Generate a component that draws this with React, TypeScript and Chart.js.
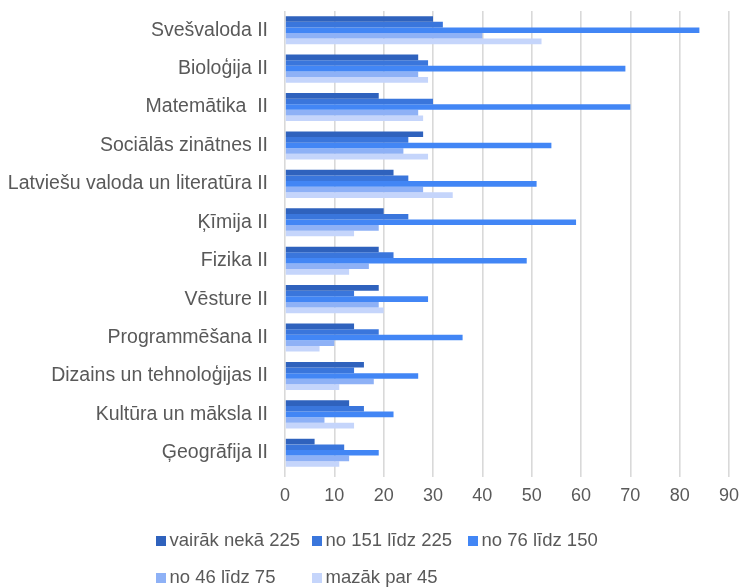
import React, { useEffect, useRef } from "react";
import { Chart, registerables } from "chart.js";

Chart.register(...registerables);

const categories = [
  "Svešvaloda II",
  "Bioloģija II",
  "Matemātika  II",
  "Sociālās zinātnes II",
  "Latviešu valoda un literatūra II",
  "Ķīmija II",
  "Fizika II",
  "Vēsture II",
  "Programmēšana II",
  "Dizains un tehnoloģijas II",
  "Kultūra un māksla II",
  "Ģeogrāfija II",
];

const seriesLabels = [
  "vairāk nekā 225",
  "no 151 līdz 225",
  "no 76 līdz 150",
  "no 46 līdz 75",
  "mazāk par 45",
];

const over225 = [30, 27, 19, 28, 22, 20, 19, 19, 14, 16, 13, 6];
const from151to225 = [32, 29, 30, 25, 25, 25, 22, 14, 19, 14, 16, 12];
const from76to150 = [84, 69, 70, 54, 51, 59, 49, 29, 36, 27, 22, 19];
const from46to75 = [40, 27, 27, 24, 28, 19, 17, 19, 10, 18, 8, 13];
const under45 = [52, 29, 28, 29, 34, 14, 13, 20, 7, 11, 14, 11];

const xTicks = [0, 10, 20, 30, 40, 50, 60, 70, 80, 90];

const colors = ["#2f62bd", "#3a76dc", "#4286f5", "#8eb1f6", "#c5d5fb"];
const textColor = "#595959";
const fontFamily = '"Liberation Sans", Arial, sans-serif';

const legendPlugin = {
  id: "columnLegend",
  afterDraw(chart: any) {
    const ctx = chart.ctx;
    const colX = [156, 312, 468];
    const rowY = [541, 578];
    ctx.save();
    ctx.font = `18.5px ${fontFamily}`;
    ctx.textBaseline = "middle";
    ctx.textAlign = "left";
    chart.data.datasets.forEach((ds: any, i: number) => {
      const col = i % 3;
      const row = Math.floor(i / 3);
      const x = colX[col];
      const y = rowY[row];
      ctx.fillStyle = ds.backgroundColor;
      ctx.fillRect(x, y - 5, 10, 10);
      ctx.fillStyle = textColor;
      ctx.fillText(ds.label, x + 13.5, y);
    });
    ctx.restore();
  },
};

export default function App() {
  const ref = useRef<HTMLCanvasElement | null>(null);

  useEffect(() => {
    if (!ref.current) return;
    const values = [over225, from151to225, from76to150, from46to75, under45];
    const chart = new Chart(ref.current, {
      type: "bar",
      data: {
        labels: categories,
        datasets: values.map((v, i) => ({
          label: seriesLabels[i],
          data: v,
          backgroundColor: colors[i],
          borderWidth: 0,
          categoryPercentage: 0.73,
          barPercentage: 1.0,
        })),
      },
      options: {
        indexAxis: "y",
        animation: false,
        responsive: true,
        maintainAspectRatio: false,
        layout: { padding: { top: 11, right: 11, left: 0, bottom: 86 } },
        plugins: {
          legend: { display: false },
          tooltip: { enabled: false },
        },
        scales: {
          x: {
            min: 0,
            max: 90,
            afterBuildTicks: (scale: any) => {
              scale.ticks = xTicks.map((v) => ({ value: v }));
            },
            afterFit: (scale: any) => {
              scale.height = 30;
            },
            grid: {
              color: "#d9d9d9",
              lineWidth: 1.6,
              tickLength: 5,
              drawTicks: true,
            },
            border: { display: false },
            ticks: {
              color: textColor,
              font: { size: 18, family: fontFamily },
              padding: 8,
              maxRotation: 0,
            },
          },
          y: {
            afterFit: (scale: any) => {
              scale.width = 285;
              scale.paddingTop = 0;
              scale.paddingBottom = 0;
            },
            grid: { display: false, drawTicks: false },
            border: { display: false },
            ticks: {
              color: textColor,
              font: { size: 19.5, family: fontFamily },
              padding: 17,
              autoSkip: false,
            },
          },
        },
      },
      plugins: [legendPlugin],
    });
    return () => chart.destroy();
  }, []);

  return (
    <div style={{ position: "fixed", left: 0, top: 0, width: 747, height: 588, background: "#fff" }}>
      <canvas ref={ref} />
    </div>
  );
}
